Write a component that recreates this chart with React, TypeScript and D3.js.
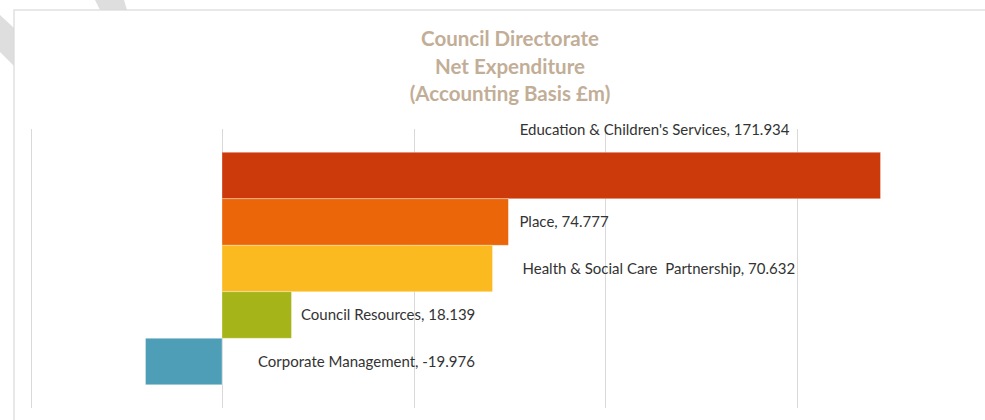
import React from "react";
import * as d3 from "d3";

const categories = [
  "Education & Children's Services",
  "Place",
  "Health & Social Care Partnership",
  "Council Resources",
  "Corporate Management",
];
const values = [171.934, 74.777, 70.632, 18.139, -19.976];
const labels = [
  "Education & Children's Services, 171.934",
  "Place, 74.777",
  "Health & Social\u00a0Care  Partnership, 70.632",
  "Council Resources, 18.139",
  "Corporate Management, -19.976",
];
const colors = ["#CC3A0C", "#EB6608", "#FBBA20", "#A5B418", "#4F9EB8"];
const gridTicks = [-50, 0, 50, 100, 150, 200];
const titleLines = ["Council Directorate", "Net Expenditure", "(Accounting Basis £m)"];

// label placement tweaks (Excel-style data labels)
const labelDx = [0, 11, 30, 9.5, 36];

const W = 985;
const H = 420;

const App = () => {
  const x = d3.scaleLinear().domain([-50, 200]).range([30.5, 988]);
  const y = d3
    .scaleBand<string>()
    .domain(categories)
    .range([129, 408])
    .paddingInner(0)
    .paddingOuter(0.5);
  const bw = y.bandwidth();

  return (
    <svg
      width={W}
      height={H}
      style={{ position: "absolute", left: 0, top: 0, fontFamily: "Lato, 'Noto Sans', sans-serif" }}
    >
      <rect width={W} height={H} fill="#fff" />
      {/* faint watermark fragments behind the chart frame */}
      <polygon points="0,15 14,28 14,66 0,52" fill="#DEDEDE" />
      <polygon points="95,0 124,0 127,10 100,10" fill="#DEDEDE" />
      <rect x={14} y={10} width={W} height={H} fill="#fff" stroke="#D9D9D9" strokeWidth={1.2} />

      {titleLines.map((t, i) => (
        <text
          key={t}
          x={510}
          y={46 + i * 27.5}
          textAnchor="middle"
          fontSize={20.5}
          fontWeight="bold"
          fill="#C2AE97"
        >
          {t}
        </text>
      ))}

      {gridTicks.map((t) => (
        <line
          key={t}
          x1={Math.round(x(t)) + 0.5}
          x2={Math.round(x(t)) + 0.5}
          y1={129}
          y2={408}
          stroke="#D9D9D9"
          strokeWidth={1}
        />
      ))}

      {categories.map((c, i) => {
        const v = values[i];
        const x0 = x(Math.min(0, v));
        const x1 = x(Math.max(0, v));
        return (
          <rect
            key={c}
            x={x0}
            y={y(c)!}
            width={x1 - x0}
            height={bw}
            fill={colors[i]}
            stroke="#fff"
            strokeOpacity={0.4}
            strokeWidth={0.8}
          />
        );
      })}

      {categories.map((c, i) => {
        const v = values[i];
        if (i === 0) {
          return (
            <text key={c} x={x(v) - 91} y={y(c)! - 17} textAnchor="end" fontSize={15} fill="#333">
              {labels[i]}
            </text>
          );
        }
        return (
          <text
            key={c}
            x={x(Math.max(0, v)) + labelDx[i]}
            y={y(c)! + bw / 2 + 5}
            fontSize={15}
            fill="#333"
            style={{ whiteSpace: "pre" }}
          >
            {labels[i]}
          </text>
        );
      })}
    </svg>
  );
};

export default App;
